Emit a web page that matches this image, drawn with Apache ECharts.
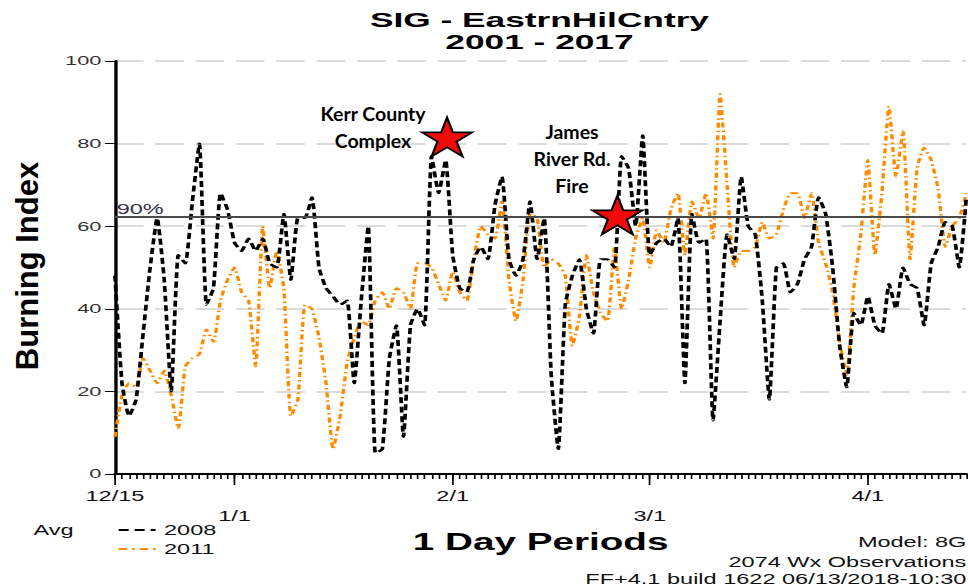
<!DOCTYPE html>
<html>
<head>
<meta charset="utf-8">
<title>SIG - EastrnHilCntry</title>
<script src="https://cdn.jsdelivr.net/npm/echarts@6/dist/echarts.min.js"></script>
<style>
  html, body { margin: 0; padding: 0; background: #fff; overflow: hidden; }
  /* the source graph was exported narrow and stretched sideways, so we do the same */
  #box { width: 576px; height: 588px; transform: scaleX(1.6806); transform-origin: 0 0; }
</style>
</head>
<body>
<div id="box"></div>
<script>
let STRETCH = 968 / 576;
let FONT = '"Liberation Sans", Arial, sans-serif';

//%% x axis: days since 12/15
let monthDays = [0, 17, 48, 76, 107];
let monthLabels = ["12/15", "1/1", "2/1", "3/1", "4/1"];
let lowRowLabels = ["1/1", "3/1"];

//%% daily burning index, 12/15 .. 4/15
let bi2008 = [
  48, 22, 14, 18, 34, 50, 62, 47, 20, 53,
  51, 66, 80, 41, 45, 68, 64, 56, 54, 57,
  54, 57, 51, 50, 63, 47, 62, 62, 67, 50,
  45, 43, 41, 42, 22, 42, 60, 5, 6, 28,
  36, 9, 36, 40, 36, 77, 68, 76, 53, 45,
  44, 52, 55, 52, 65, 72, 52, 48, 52, 66,
  52, 62, 24, 6, 41, 48, 52, 40, 34, 52,
  52, 50, 77, 74, 60, 82, 53, 56, 57, 55,
  62, 22, 63, 56, 57, 13, 37, 58, 52, 72,
  60, 58, 42, 18, 50, 51, 44, 46, 52, 55,
  67, 63, 50, 31, 21, 39, 36, 43, 36, 34,
  46, 40, 50, 46, 45, 36, 51, 55, 61, 60,
  50, 67
];
let bi2011 = [
  9, 19, 22, 21, 28, 25, 22, 25, 19, 11,
  26, 28, 29, 35, 32, 42, 47, 50, 44, 42,
  26, 60, 45, 54, 45, 14, 18, 41, 40, 33,
  22, 6, 14, 27, 33, 37, 36, 42, 44, 40,
  45, 44, 40, 51, 51, 50, 46, 42, 49, 44,
  42, 52, 60, 58, 57, 66, 47, 37, 47, 63,
  62, 50, 52, 51, 48, 31, 38, 53, 44, 39,
  37, 55, 40, 47, 57, 62, 50, 59, 56, 64,
  68, 53, 66, 62, 68, 57, 92, 70, 50, 54,
  54, 55, 61, 57, 58, 64, 68, 68, 62, 68,
  56, 51, 44, 32, 24, 45, 58, 76, 53, 68,
  89, 72, 83, 52, 74, 79, 76, 69, 55, 60,
  62, 68
];
let pct90 = 62.3;

//%% fire events (day, BI)
let fireDays = [47.2, 71.4];
let fireBI = [81.6, 62.7];

let STAR = "path://M50 0 L61.23 34.55 L97.55 34.55 L68.17 55.9 L79.39 90.45 L50 69.1 L20.61 90.45 L31.83 55.9 L2.45 34.55 L38.77 34.55 Z";

function pairs(arr) {
  return arr.map((v, i) => [i, v]);
}

let chart = echarts.init(document.getElementById("box"), null, { renderer: "svg" });

let option = {
  animation: false,
  grid: { left: 68.4, right: 1, top: 61, bottom: 114 },
  legend: {
    data: [
      { name: "2008", itemStyle: { opacity: 0 } },
      { name: "2011", itemStyle: { opacity: 0 } }
    ],
    orient: "vertical",
    left: 69.6,
    top: 523,
    padding: 0,
    itemWidth: 22,
    itemHeight: 12,
    itemGap: 5,
    textStyle: { fontFamily: FONT, fontSize: 14, color: "#111" }
  },
  xAxis: [
    {
      type: "value",
      min: 0,
      max: 121,
      interval: 1,
      name: "1 Day Periods",
      nameLocation: "middle",
      nameGap: 56,
      nameTextStyle: { fontFamily: FONT, fontWeight: "bold", fontSize: 23, color: "#000" },
      axisLine: { lineStyle: { color: "#000", width: 2 } },
      axisTick: { length: 5, lineStyle: { color: "#000", width: 1 } },
      splitLine: { show: false },
      axisLabel: {
        customValues: monthDays,
        fontFamily: FONT,
        fontSize: 14,
        color: "#111",
        lineHeight: 20,
        margin: 12,
        formatter: v => {
          let t = monthLabels[monthDays.indexOf(v)];
          return lowRowLabels.indexOf(t) >= 0 ? "\n" + t : t;
        }
      }
    },
    {
      // longer ticks at month starts
      type: "value",
      min: 0,
      max: 121,
      position: "bottom",
      axisLine: { show: false },
      axisLabel: { show: false },
      splitLine: { show: false },
      axisTick: { customValues: monthDays, length: 11, lineStyle: { color: "#000", width: 1 } }
    }
  ],
  yAxis: {
    type: "value",
    min: 0,
    max: 100,
    interval: 20,
    axisLine: { show: true, lineStyle: { color: "#000", width: 2 } },
    axisTick: { show: true, length: 6, lineStyle: { color: "#000" } },
    axisLabel: { fontFamily: FONT, fontSize: 13, color: "#333", margin: 8 },
    splitLine: { lineStyle: { color: "#cfcfcf", width: 1.5, type: [17, 7] } }
  },
  series: [
    {
      name: "2011",
      type: "line",
      data: pairs(bi2011),
      symbol: "none",
      smooth: 0.15,
      z: 2,
      itemStyle: { color: "#ff8a00" },
      lineStyle: { color: "#ff8a00", width: 2, type: [5, 3, 1.5, 3] }
    },
    {
      name: "2008",
      type: "line",
      data: pairs(bi2008),
      symbol: "none",
      smooth: 0.15,
      z: 3,
      itemStyle: { color: "#000" },
      lineStyle: { color: "#000", width: 2.2, type: [6, 3.5] },
      markLine: {
        symbol: "none",
        silent: true,
        data: [{ yAxis: pct90 }],
        lineStyle: { color: "#4a4a4a", width: 2, type: "solid" },
        label: {
          position: "insideStartTop",
          formatter: "90%",
          fontFamily: FONT,
          fontSize: 14,
          color: "#334",
          distance: [1, 1]
        }
      }
    },
    {
      name: "fires",
      type: "scatter",
      data: fireDays.map((d, i) => [d, fireBI[i]]),
      symbol: STAR,
      symbolSize: [50 / STRETCH, 39],
      z: 10,
      itemStyle: { color: "#f00a0a", borderColor: "#000", borderWidth: 1.5, opacity: 1 }
    }
  ],
  graphic: [
    {
      type: "text",
      x: 321,
      y: 20,
      style: {
        text: "SIG - EastrnHilCntry",
        font: "bold 21px " + FONT,
        fill: "#000",
        align: "center",
        verticalAlign: "middle"
      }
    },
    {
      type: "text",
      x: 321,
      y: 41.5,
      style: {
        text: "2001 - 2017",
        font: "bold 21px " + FONT,
        fill: "#000",
        align: "center",
        verticalAlign: "middle"
      }
    },
    {
      type: "text",
      x: 16.4,
      y: 266,
      rotation: Math.PI / 2,
      scaleY: 1 / STRETCH,
      style: {
        text: "Burning Index",
        font: "bold 31px " + FONT,
        fill: "#000",
        align: "center",
        verticalAlign: "middle"
      }
    },
    {
      type: "text",
      x: 20,
      y: 530,
      style: { text: "Avg", font: "14px " + FONT, fill: "#111", verticalAlign: "middle" }
    },
    {
      type: "text",
      x: 575,
      y: 542,
      style: { text: "Model: 8G", font: "14px " + FONT, fill: "#111", align: "right", verticalAlign: "middle" }
    },
    {
      type: "text",
      x: 575,
      y: 562,
      style: { text: "2074 Wx Observations", font: "14px " + FONT, fill: "#111", align: "right", verticalAlign: "middle" }
    },
    {
      type: "text",
      x: 575,
      y: 579,
      style: { text: "FF+4.1 build 1622 06/13/2018-10:30", font: "14px " + FONT, fill: "#111", align: "right", verticalAlign: "middle" }
    },
    {
      type: "text",
      x: 373 / STRETCH,
      y: 127,
      scaleX: 1 / STRETCH,
      z: 20,
      style: {
        text: "Kerr County\nComplex",
        font: "bold 19.5px Lato, " + FONT,
        fill: "#000",
        align: "center",
        verticalAlign: "middle",
        lineHeight: 28
      }
    },
    {
      type: "text",
      x: 572 / STRETCH,
      y: 158.5,
      scaleX: 1 / STRETCH,
      z: 20,
      style: {
        text: "James\nRiver Rd.\nFire",
        font: "bold 19.5px Lato, " + FONT,
        fill: "#000",
        align: "center",
        verticalAlign: "middle",
        lineHeight: 27.5
      }
    }
  ]
};

chart.setOption(option);
</script>
</body>
</html>
